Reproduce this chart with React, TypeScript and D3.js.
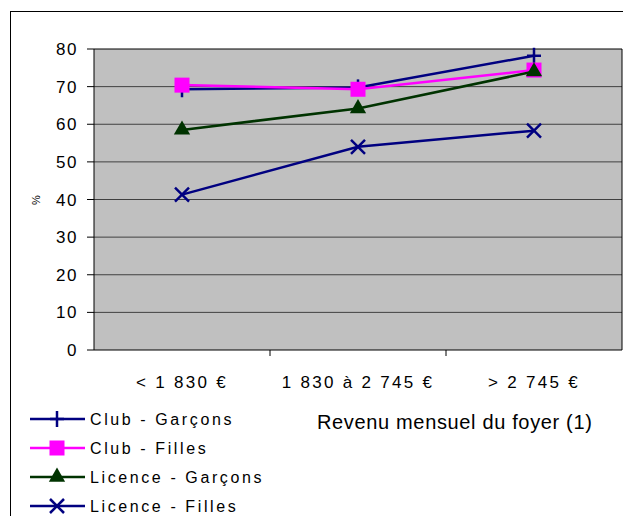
import React from "react";
import * as d3 from "d3";

const categories = ["< 1 830 €", "1 830 à 2 745 €", "> 2 745 €"];
const clubGarcons = [69.3, 69.8, 78.2];
const clubFilles = [70.4, 69.3, 74.4];
const licenceGarcons = [58.5, 64.2, 74.0];
const licenceFilles = [41.3, 54.0, 58.3];
const yTicks = [0, 10, 20, 30, 40, 50, 60, 70, 80];
const seriesNames = ["Club - Garçons", "Club - Filles", "Licence - Garçons", "Licence - Filles"];
const seriesColors = ["#000080", "#FF00FF", "#003300", "#000080"];
const seriesMarkers = ["plus", "square", "triangle", "cross"];

const W = 623, H = 516;
const plot = { left: 94, right: 622, top: 49, bottom: 350 };

function Marker({ type, x, y, color }: { type: string; x: number; y: number; color: string }) {
  if (type === "plus") {
    return (
      <g stroke={color} strokeWidth={2.5}>
        <line x1={x} x2={x} y1={y - 8} y2={y + 8} />
        <line x1={x - 7} x2={x + 7} y1={y} y2={y} />
      </g>
    );
  }
  if (type === "square") {
    return <rect x={x - 7.5} y={y - 7.5} width={15} height={15} fill={color} />;
  }
  if (type === "triangle") {
    const s = d3.symbol().type(d3.symbolTriangle).size(115)();
    return <path d={s || ""} transform={`translate(${x},${y})`} fill={color} />;
  }
  return (
    <g stroke={color} strokeWidth={2.5}>
      <line x1={x - 7} x2={x + 7} y1={y - 7} y2={y + 7} />
      <line x1={x - 7} x2={x + 7} y1={y + 7} y2={y - 7} />
    </g>
  );
}

export default function App() {
  const x = d3.scaleBand<string>().domain(categories).range([plot.left, plot.right]);
  const y = d3.scaleLinear().domain([0, 80]).range([plot.bottom, plot.top]);
  const series = [clubGarcons, clubFilles, licenceGarcons, licenceFilles];
  const line = d3
    .line<number>()
    .x((_, i) => (x(categories[i]) as number) + x.bandwidth() / 2)
    .y((d) => y(d));
  const font = "'Liberation Sans', Arial, sans-serif";
  const legendY = [419, 448, 477, 506];

  return (
    <svg width={W} height={H} style={{ position: "absolute", left: 0, top: 0, display: "block" }} fontFamily={font}>
      <rect x={0} y={0} width={W} height={H} fill="#fff" />
      <rect x={10.5} y={11.5} width={W} height={H} fill="none" stroke="#000" strokeWidth={1} />
      <rect x={plot.left} y={plot.top} width={plot.right - plot.left} height={plot.bottom - plot.top} fill="#C0C0C0" />
      {yTicks.map((t) => (
        <g key={t}>
          <line x1={plot.left} x2={plot.right} y1={y(t)} y2={y(t)} stroke={t === 0 || t === 80 ? "#000" : "#404040"} strokeWidth={1} />
          <line x1={plot.left - 7} x2={plot.left} y1={y(t)} y2={y(t)} stroke="#000" />
          <text x={78} y={y(t)} dy="0.36em" textAnchor="end" fontSize={17} letterSpacing={1.5} fill="#000">
            {t}
          </text>
        </g>
      ))}
      <line x1={plot.left} x2={plot.left} y1={plot.top} y2={plot.bottom} stroke="#000" />
      <line x1={plot.right} x2={plot.right} y1={plot.top} y2={plot.bottom} stroke="#000" />
      {categories.map((c, i) => (
        <g key={c}>
          {i > 0 && (
            <line x1={x(c)} x2={x(c)} y1={plot.bottom} y2={plot.bottom + 6} stroke="#000" />
          )}
          <text x={(x(c) as number) + x.bandwidth() / 2} y={382} dy="0.36em" textAnchor="middle" fontSize={17} letterSpacing={2.3}>
            {c}
          </text>
        </g>
      ))}
      <text transform={`translate(36,200) rotate(-90)`} textAnchor="middle" fontSize={11} dy="0.35em">
        %
      </text>
      {series.map((s, si) => (
        <g key={si}>
          <path d={line(s) || ""} fill="none" stroke={seriesColors[si]} strokeWidth={2.5} />
          {s.map((v, i) => (
            <Marker
              key={i}
              type={seriesMarkers[si]}
              x={(x(categories[i]) as number) + x.bandwidth() / 2}
              y={y(v)}
              color={seriesColors[si]}
            />
          ))}
        </g>
      ))}
      {seriesNames.map((n, i) => (
        <g key={n}>
          <line x1={30} x2={85} y1={legendY[i]} y2={legendY[i]} stroke={seriesColors[i]} strokeWidth={2.5} />
          <Marker type={seriesMarkers[i]} x={57} y={legendY[i]} color={seriesColors[i]} />
          <text x={90} y={legendY[i]} dy="0.36em" fontSize={16} letterSpacing={2.6}>
            {n}
          </text>
        </g>
      ))}
      <text x={317} y={422} dy="0.36em" fontSize={20} letterSpacing={0.65}>
        Revenu mensuel du foyer (1)
      </text>
    </svg>
  );
}
